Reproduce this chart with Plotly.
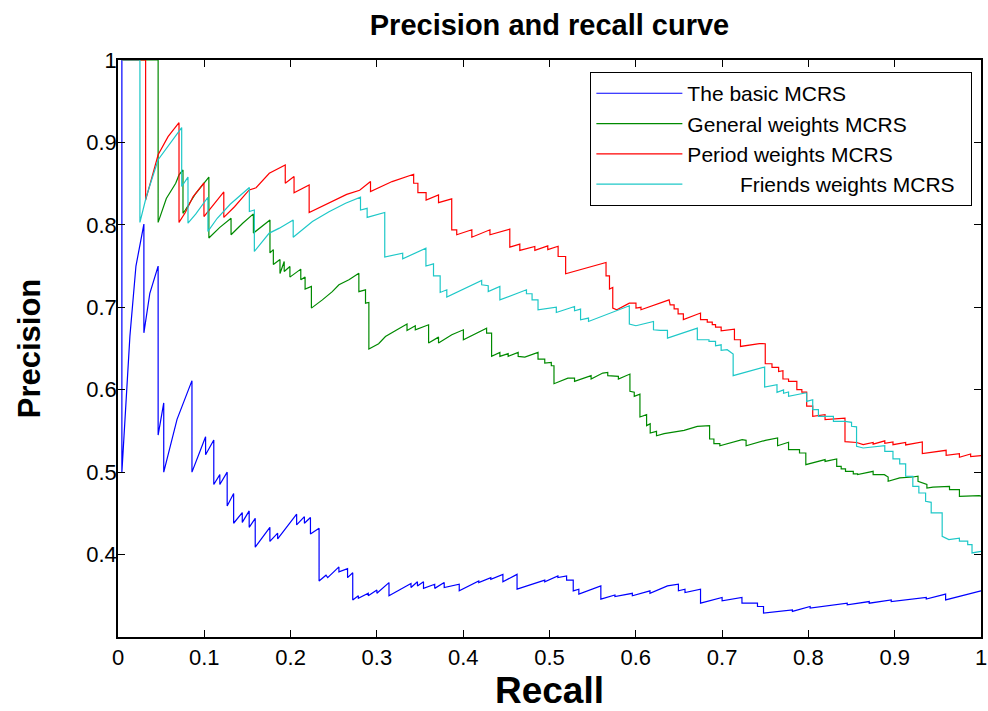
import plotly.graph_objects as go

# ---------------- data ----------------
basic_recall = [0.0045, 0.0045, 0.0138, 0.0208, 0.030, 0.030, 0.0369, 0.0465, 0.0465, 0.053,
                0.053, 0.0684, 0.0857, 0.0857, 0.1015, 0.1015, 0.111, 0.111, 0.118, 0.118,
                0.1265, 0.1265, 0.134, 0.134, 0.144, 0.144, 0.152, 0.152, 0.159, 0.159,
                0.176, 0.176, 0.185, 0.185, 0.207, 0.207, 0.216, 0.216, 0.223, 0.223,
                0.233, 0.233, 0.241, 0.243, 0.256, 0.256, 0.266, 0.266, 0.272, 0.272,
                0.2785, 0.2785, 0.290, 0.290, 0.300, 0.300, 0.314, 0.314, 0.3395, 0.3395,
                0.347, 0.347, 0.354, 0.354, 0.367, 0.367, 0.378, 0.378, 0.3954, 0.3954,
                0.418, 0.418, 0.432, 0.432, 0.446, 0.446, 0.4624, 0.4624, 0.4945, 0.4945,
                0.5097, 0.5097, 0.5198, 0.5198, 0.5275, 0.5275, 0.534, 0.534, 0.5595, 0.5595,
                0.5758, 0.5758, 0.596, 0.596, 0.6164, 0.6164, 0.6367, 0.6494, 0.6494, 0.657,
                0.657, 0.675, 0.675, 0.700, 0.700, 0.723, 0.723, 0.741, 0.741, 0.748,
                0.748, 0.7815, 0.7815, 0.802, 0.802, 0.845, 0.845, 0.8705, 0.8705, 0.896,
                0.896, 0.9366, 0.9366, 0.959, 0.959, 1.0]
basic_precision = [1.0, 0.5, 0.665, 0.750, 0.801, 0.669, 0.717, 0.750, 0.545, 0.584,
                   0.500, 0.564, 0.611, 0.500, 0.543, 0.521, 0.539, 0.485, 0.497, 0.485,
                   0.500, 0.459, 0.474, 0.438, 0.451, 0.439, 0.453, 0.433, 0.444, 0.409,
                   0.433, 0.416, 0.426, 0.419, 0.449, 0.436, 0.446, 0.438, 0.445, 0.425,
                   0.432, 0.368, 0.375, 0.372, 0.385, 0.379, 0.383, 0.372, 0.378, 0.345,
                   0.350, 0.347, 0.353, 0.350, 0.357, 0.353, 0.366, 0.350, 0.365, 0.360,
                   0.367, 0.362, 0.367, 0.359, 0.364, 0.359, 0.366, 0.360, 0.364, 0.356,
                   0.368, 0.366, 0.372, 0.370, 0.376, 0.367, 0.376, 0.358, 0.369, 0.367,
                   0.374, 0.372, 0.374, 0.369, 0.369, 0.356, 0.358, 0.352, 0.362, 0.346,
                   0.351, 0.349, 0.353, 0.350, 0.356, 0.353, 0.362, 0.364, 0.356, 0.358,
                   0.354, 0.358, 0.341, 0.348, 0.344, 0.348, 0.341, 0.341, 0.337, 0.337,
                   0.329, 0.333, 0.331, 0.337, 0.335, 0.341, 0.339, 0.343, 0.341, 0.345,
                   0.343, 0.348, 0.346, 0.352, 0.345, 0.356]

general_recall = [0.0045, 0.0465, 0.0465, 0.0504, 0.056, 0.0669, 0.0707, 0.0753, 0.0753, 0.078,
                  0.090, 0.1053, 0.1053, 0.118, 0.131, 0.131, 0.1445, 0.1569, 0.1569, 0.1761,
                  0.1761, 0.180, 0.180, 0.1877, 0.1877, 0.1926, 0.1926, 0.1992, 0.1992, 0.2118,
                  0.2118, 0.2168, 0.2168, 0.2241, 0.2241, 0.2368, 0.2483, 0.256, 0.2676, 0.2791,
                  0.2791, 0.2868, 0.2868, 0.2907, 0.2907, 0.302, 0.3099, 0.3233, 0.3349, 0.3349,
                  0.3445, 0.3445, 0.3599, 0.3599, 0.3714, 0.3714, 0.3868, 0.4002, 0.4002, 0.4271,
                  0.4271, 0.4329, 0.4329, 0.4425, 0.4425, 0.4521, 0.4521, 0.4637, 0.4637, 0.4714,
                  0.4867, 0.4867, 0.4945, 0.4945, 0.5021, 0.5021, 0.5052, 0.5052, 0.5213, 0.529,
                  0.529, 0.5482, 0.5482, 0.5617, 0.5675, 0.5675, 0.5798, 0.5798, 0.5932, 0.5932,
                  0.5982, 0.5982, 0.6048, 0.6048, 0.6125, 0.6125, 0.6167, 0.6167, 0.624, 0.624,
                  0.6328, 0.656, 0.6713, 0.6855, 0.6855, 0.6905, 0.6905, 0.6974, 0.6974, 0.7232,
                  0.7278, 0.7278, 0.7501, 0.7643, 0.7643, 0.777, 0.777, 0.7897, 0.7897, 0.797,
                  0.797, 0.8193, 0.8193, 0.8328, 0.8328, 0.838, 0.838, 0.843, 0.843, 0.852,
                  0.852, 0.857, 0.857, 0.875, 0.875, 0.888, 0.8924, 0.8924, 0.9058, 0.921,
                  0.927, 0.927, 0.9373, 0.9373, 0.9443, 0.9635, 0.9635, 0.975, 0.975, 0.998,
                  1.0]
general_precision = [1.0, 1.0, 0.803, 0.814, 0.832, 0.8505, 0.8606, 0.8667, 0.814, 0.818,
                     0.838, 0.858, 0.784, 0.797, 0.808, 0.788, 0.802, 0.8133, 0.790, 0.806,
                     0.766, 0.770, 0.752, 0.758, 0.741, 0.7556, 0.7434, 0.7495, 0.7366, 0.7463,
                     0.7333, 0.7366, 0.722, 0.7253, 0.699, 0.709, 0.719, 0.7273, 0.7333, 0.7414,
                     0.719, 0.7212, 0.705, 0.7058, 0.6493, 0.6558, 0.6646, 0.6727, 0.6796, 0.6719,
                     0.6776, 0.6727, 0.6788, 0.6566, 0.6638, 0.6566, 0.6667, 0.6727, 0.6606, 0.6747,
                     0.6687, 0.6687, 0.6404, 0.6453, 0.6404, 0.6437, 0.6404, 0.6453, 0.6404, 0.6396,
                     0.6453, 0.6372, 0.6372, 0.6323, 0.633, 0.6291, 0.6291, 0.6073, 0.6141, 0.6141,
                     0.6101, 0.617, 0.613, 0.6202, 0.621, 0.617, 0.6162, 0.613, 0.619, 0.598,
                     0.597, 0.592, 0.5947, 0.5669, 0.5697, 0.5564, 0.5588, 0.5475, 0.5495, 0.5442,
                     0.5467, 0.5507, 0.5556, 0.5565, 0.5402, 0.5402, 0.5345, 0.5345, 0.532, 0.5394,
                     0.5386, 0.532, 0.5386, 0.5414, 0.532, 0.5362, 0.5273, 0.5273, 0.5232, 0.5232,
                     0.5091, 0.5152, 0.513, 0.516, 0.507, 0.507, 0.504, 0.504, 0.501, 0.501,
                     0.498, 0.498, 0.497, 0.501, 0.497, 0.497, 0.4941, 0.4889, 0.493, 0.4941,
                     0.495, 0.4889, 0.485, 0.4808, 0.4818, 0.4828, 0.4788, 0.4788, 0.4707, 0.4715,
                     0.471]

period_recall = [0.0045, 0.032, 0.032, 0.0465, 0.058, 0.0707, 0.0707, 0.078, 0.0869, 0.0996,
                 0.0996, 0.1226, 0.1226, 0.135, 0.152, 0.160, 0.1753, 0.1938, 0.1938, 0.204,
                 0.204, 0.2215, 0.2215, 0.237, 0.250, 0.265, 0.280, 0.2926, 0.2926, 0.3176,
                 0.3426, 0.3426, 0.3475, 0.3475, 0.357, 0.357, 0.3714, 0.3714, 0.3867, 0.3867,
                 0.3925, 0.3925, 0.410, 0.410, 0.431, 0.431, 0.454, 0.454, 0.4656, 0.4656,
                 0.483, 0.483, 0.498, 0.498, 0.510, 0.510, 0.5187, 0.5187, 0.5655, 0.5655,
                 0.5695, 0.5695, 0.5733, 0.5733, 0.578, 0.5925, 0.6002, 0.6002, 0.606, 0.606,
                 0.6386, 0.6398, 0.6444, 0.6444, 0.649, 0.649, 0.6551, 0.6551, 0.675, 0.675,
                 0.6828, 0.6828, 0.6886, 0.6886, 0.6924, 0.6924, 0.6989, 0.6989, 0.7143, 0.7143,
                 0.7213, 0.7213, 0.7432, 0.750, 0.750, 0.7578, 0.7578, 0.7655, 0.7655, 0.7705,
                 0.7705, 0.777, 0.777, 0.7866, 0.7866, 0.7924, 0.7924, 0.798, 0.798, 0.805,
                 0.805, 0.8193, 0.8193, 0.8424, 0.8424, 0.8558, 0.8635, 0.875, 0.875, 0.8885,
                 0.8885, 0.898, 0.898, 0.9127, 0.9127, 0.932, 0.932, 0.9596, 0.9596, 0.975,
                 0.975, 0.988, 0.988, 1.0]
period_precision = [1.0, 1.0, 0.830, 0.885, 0.907, 0.924, 0.803, 0.815, 0.834, 0.851,
                    0.810, 0.840, 0.809, 0.822, 0.8424, 0.845, 0.8626, 0.8727, 0.8505, 0.8586,
                    0.839, 0.8485, 0.815, 0.823, 0.830, 0.837, 0.842, 0.8525, 0.8404, 0.8525,
                    0.8614, 0.8505, 0.8505, 0.839, 0.839, 0.830, 0.8364, 0.827, 0.8315, 0.794,
                    0.794, 0.788, 0.794, 0.785, 0.794, 0.788, 0.7948, 0.773, 0.7766, 0.769,
                    0.7737, 0.769, 0.7745, 0.770, 0.774, 0.7616, 0.7616, 0.7406, 0.7543, 0.738,
                    0.738, 0.722, 0.724, 0.699, 0.697, 0.705, 0.705, 0.699, 0.700, 0.697,
                    0.709, 0.703, 0.703, 0.698, 0.698, 0.692, 0.692, 0.685, 0.693, 0.685,
                    0.685, 0.682, 0.682, 0.679, 0.679, 0.676, 0.676, 0.6715, 0.6735, 0.6606,
                    0.6606, 0.6525, 0.656, 0.6558, 0.6315, 0.6315, 0.627, 0.627, 0.622, 0.623,
                    0.613, 0.613, 0.610, 0.610, 0.600, 0.600, 0.597, 0.597, 0.580, 0.580,
                    0.5677, 0.5697, 0.5636, 0.5656, 0.537, 0.536, 0.5333, 0.536, 0.534, 0.538,
                    0.535, 0.5366, 0.5333, 0.536, 0.533, 0.5366, 0.5224, 0.5265, 0.5204, 0.5224,
                    0.518, 0.522, 0.519, 0.520]

friends_recall = [0.0045, 0.0254, 0.0254, 0.033, 0.0465, 0.060, 0.0738, 0.0738, 0.0811, 0.0811,
                  0.090, 0.1042, 0.1042, 0.115, 0.130, 0.1522, 0.1522, 0.158, 0.158, 0.1753,
                  0.187, 0.203, 0.203, 0.2253, 0.2445, 0.2637, 0.281, 0.281, 0.2887, 0.2887,
                  0.3091, 0.3091, 0.3299, 0.3299, 0.3568, 0.3568, 0.3656, 0.3656, 0.3733, 0.3733,
                  0.381, 0.381, 0.4214, 0.4214, 0.429, 0.429, 0.4425, 0.4425, 0.4733, 0.4733,
                  0.4798, 0.4798, 0.4867, 0.4867, 0.5079, 0.5079, 0.529, 0.529, 0.536, 0.536,
                  0.5452, 0.5452, 0.579, 0.5925, 0.5925, 0.6002, 0.6205, 0.6205, 0.6282, 0.6367,
                  0.6367, 0.6713, 0.6713, 0.6848, 0.6848, 0.6924, 0.6924, 0.6989, 0.6989, 0.7059,
                  0.7128, 0.7128, 0.7493, 0.7493, 0.7636, 0.7636, 0.7712, 0.7712, 0.777, 0.777,
                  0.7962, 0.798, 0.798, 0.805, 0.805, 0.8116, 0.8116, 0.829, 0.829, 0.8424,
                  0.850, 0.850, 0.8558, 0.8558, 0.8635, 0.8885, 0.8885, 0.898, 0.898, 0.9058,
                  0.9058, 0.9127, 0.9127, 0.921, 0.921, 0.928, 0.928, 0.9358, 0.9358, 0.9423,
                  0.9423, 0.955, 0.955, 0.9627, 0.975, 0.975, 0.9846, 0.9846, 0.9896, 0.9896,
                  1.0]
friends_precision = [1.0, 1.0, 0.803, 0.835, 0.879, 0.899, 0.918, 0.8465, 0.858, 0.802,
                     0.813, 0.8335, 0.792, 0.808, 0.825, 0.8453, 0.8162, 0.818, 0.7677, 0.790,
                     0.796, 0.806, 0.785, 0.804, 0.816, 0.8263, 0.8335, 0.818, 0.820, 0.809,
                     0.815, 0.761, 0.7657, 0.7588, 0.7717, 0.750, 0.7527, 0.738, 0.738, 0.718,
                     0.7212, 0.7123, 0.7325, 0.7273, 0.7261, 0.719, 0.7253, 0.709, 0.7212, 0.7164,
                     0.7164, 0.709, 0.709, 0.697, 0.7002, 0.6937, 0.701, 0.6958, 0.6978, 0.6848,
                     0.6869, 0.6828, 0.6958, 0.7018, 0.6796, 0.6776, 0.6828, 0.6727, 0.672, 0.672,
                     0.6626, 0.6747, 0.6606, 0.6606, 0.6586, 0.6586, 0.6533, 0.6545, 0.6477, 0.6485,
                     0.6432, 0.617, 0.6275, 0.6033, 0.6061, 0.5968, 0.5997, 0.5956, 0.5972, 0.592,
                     0.596, 0.596, 0.5859, 0.5879, 0.5758, 0.5758, 0.5677, 0.5677, 0.5616, 0.5616,
                     0.5604, 0.5556, 0.555, 0.5313, 0.5293, 0.532, 0.5253, 0.5253, 0.516, 0.516,
                     0.510, 0.510, 0.495, 0.4949, 0.4828, 0.4828, 0.4747, 0.4747, 0.4646, 0.4634,
                     0.4505, 0.4505, 0.4222, 0.4182, 0.420, 0.4162, 0.4162, 0.4121, 0.4121, 0.402,
                     0.404]

series_names = ["The basic MCRS", "General weights MCRS", "Period weights MCRS",
                "\u00a0" * 9 + "Friends weights MCRS" + "\u00a0" * 2]
series_colors = ["#0000ff", "#008a00", "#ff0000", "#1ec8c8"]

x_ticks = [0, 0.1, 0.2, 0.3, 0.4, 0.5, 0.6, 0.7, 0.8, 0.9, 1.0]
x_tick_labels = ["0", "0.1", "0.2", "0.3", "0.4", "0.5", "0.6", "0.7", "0.8", "0.9", "1"]
y_ticks = [0.4, 0.5, 0.6, 0.7, 0.8, 0.9, 1.0]
y_tick_labels = ["0.4", "0.5", "0.6", "0.7", "0.8", "0.9", "1"]

# ---------------- figure ----------------
FONT = "Liberation Sans, Arial, Helvetica, sans-serif"
series = [(basic_recall, basic_precision), (general_recall, general_precision),
          (period_recall, period_precision), (friends_recall, friends_precision)]

fig = go.Figure()
for (rx, py), name, col in zip(series, series_names, series_colors):
    fig.add_trace(go.Scatter(x=rx, y=py, mode="lines", name=name,
                             line=dict(color=col, width=1.2)))

axis_common = dict(showgrid=False, zeroline=False, showline=True, linecolor="black",
                   linewidth=1.5, mirror="ticks", ticks="inside", ticklen=7,
                   tickcolor="black", tickwidth=1, ticklabeloverflow="allow",
                   automargin=False,
                   tickfont=dict(family=FONT, size=22, color="black"))

fig.update_layout(
    width=988, height=711,
    margin=dict(l=118, r=7, t=60, b=74),
    paper_bgcolor="white", plot_bgcolor="white",
    font=dict(family=FONT, color="black"),
    title=dict(text="<b>Precision and recall curve</b>", x=0.5, xref="paper", xanchor="center",
               y=1 - 25 / 711, yref="container", yanchor="middle",
               font=dict(family=FONT, size=29, color="black")),
    xaxis=dict(range=[0, 1], tickvals=x_ticks, ticktext=x_tick_labels,
               title=dict(text="<b>Recall</b>", font=dict(family=FONT, size=37, color="black"),
                          standoff=5),
               ticklabelstandoff=0, **axis_common),
    yaxis=dict(range=[0.3, 1], tickvals=y_ticks, ticktext=y_tick_labels,
               title=dict(text="<b>Precision</b>", font=dict(family=FONT, size=31, color="black"),
                          standoff=36),
               ticklabelstandoff=-5, **axis_common),
    legend=dict(x=0.99, xanchor="right", y=0.979, yanchor="top",
                bgcolor="white", bordercolor="black", borderwidth=1,
                font=dict(family=FONT, size=21, color="black"),
                itemwidth=86, tracegroupgap=0),
    showlegend=True,
)

fig.write_html("out.html")
